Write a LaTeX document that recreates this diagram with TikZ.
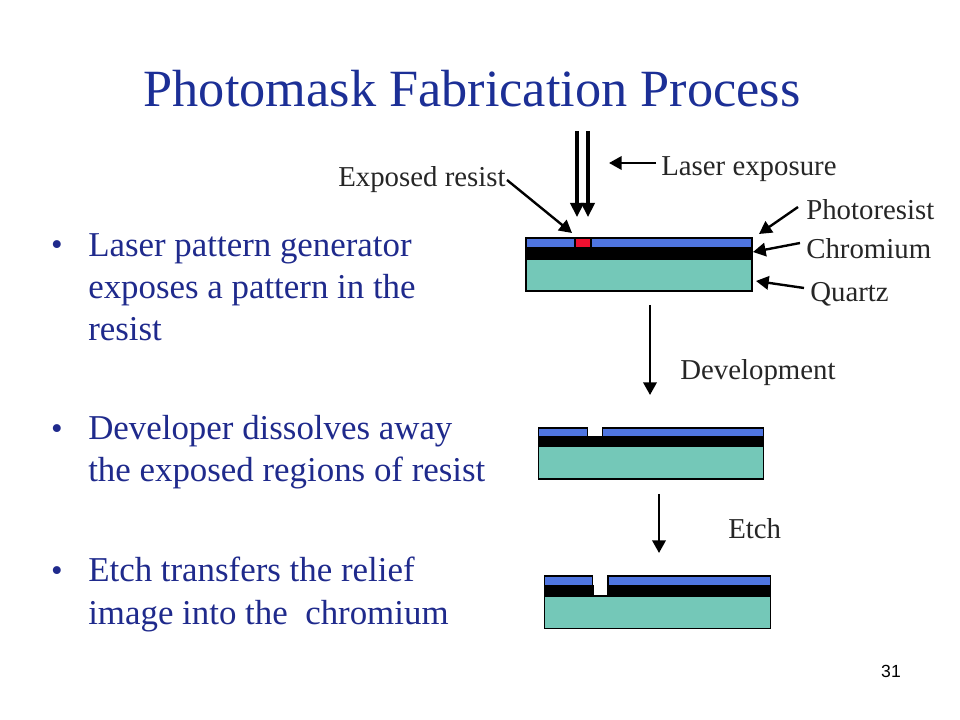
\documentclass[tikz,border=0pt]{standalone}
\usepackage{fontspec}
\setmainfont{Liberation Serif}
\newfontfamily\pagefont{Liberation Sans}
\usetikzlibrary{arrows.meta}
\definecolor{titleblue}{HTML}{1C2F96}
\definecolor{bodyblue}{HTML}{1F2A8C}
\definecolor{resistblue}{HTML}{4F75E0}
\definecolor{quartzteal}{HTML}{74C8B8}
\definecolor{exposedred}{HTML}{EE1030}
\definecolor{labelgray}{HTML}{262626}
\tikzset{
  resistlayer/.style={draw=black, thick, fill=resistblue},
  chromelayer/.style={draw=black, thick, fill=black},
  quartzlayer/.style={draw=black, thick, fill=quartzteal},
  bodytext/.style={anchor=north west, align=left, inner sep=0pt, text=bodyblue, font=\fontsize{24.8}{30}\selectfont},
  bullettext/.style={anchor=base, inner sep=0pt, text=bodyblue, font=\fontsize{23.5}{30}\selectfont},
  sidelabel/.style={anchor=base west, inner sep=0pt, text=labelgray, font=\fontsize{20.5}{24}\selectfont},
  pointer/.style={line width=1.7pt, -{Triangle[length=9pt,width=9.5pt]}},
  beam/.style={line width=2.2pt, -{Triangle[length=10pt,width=9.5pt]}},
}
\begin{document}
\begin{tikzpicture}[x=0.025cm, y=-0.025cm]
  \useasboundingbox (0,0) rectangle (960,720);
  \node[anchor=base, inner sep=0pt, text=titleblue, font=\fontsize{37.2}{42}\selectfont] (title) at (472,106.5) {Photomask Fabrication Process};

  % bullets
  \node[bullettext] (dot1) at (57,256) {•};
  \node[bullettext] (dot2) at (57,440) {•};
  \node[bullettext] (dot3) at (57,581) {•};
  \node[bodytext] (item1) at (88,233) {Laser pattern generator\\exposes a pattern in the\\resist};
  \node[bodytext] (item2) at (88,415) {Developer dissolves away\\the exposed regions of resist};
  \node[bodytext] (item3) at (88,557) {Etch transfers the relief\\image into the\ \ chromium};

  % first stack
  \draw[quartzlayer] (526,259) rectangle (752,291);
  \draw[chromelayer] (526,248) rectangle (752,259);
  \draw[resistlayer] (526,238) rectangle (752,248);
  \draw[thick, fill=exposedred] (575,238) rectangle (591,248);

  % second stack
  \draw[quartzlayer] (538.5,446) rectangle (763.5,479);
  \draw[chromelayer] (538.5,437) rectangle (763.5,446);
  \draw[resistlayer] (538.5,428) rectangle (587.5,437);
  \draw[resistlayer] (602.5,428) rectangle (763.5,437);

  % third stack
  \draw[quartzlayer] (544.5,596) rectangle (770.5,628.5);
  \draw[chromelayer] (544.5,586) rectangle (593,596);
  \draw[chromelayer] (608,586) rectangle (770.5,596);
  \draw[resistlayer] (544.5,576) rectangle (592.5,586);
  \draw[resistlayer] (608,576) rectangle (770.5,586);

  % labels
  \node[sidelabel] (exposed) at (338,187) {Exposed resist};
  \node[sidelabel] (laser) at (661,176) {Laser exposure};
  \node[sidelabel] (resist) at (806,220) {Photoresist};
  \node[sidelabel] (chromium) at (806,259) {Chromium};
  \node[sidelabel] (quartz) at (810,302) {Quartz};
  \node[sidelabel] (develop) at (680,380) {Development};
  \node[sidelabel] (etch) at (728,539) {Etch};
  \node[anchor=base, inner sep=0pt, font=\pagefont\fontsize{12.5}{14}\selectfont] (page) at (891,677) {31};

  % beams
  \coordinate (beamtopa) at (577,131);
  \coordinate (beamenda) at (577,217);
  \coordinate (beamtopb) at (588,131);
  \coordinate (beamendb) at (588,217);
  \draw[beam] (beamtopa) -- (beamenda);
  \draw[beam] (beamtopb) -- (beamendb);

  % pointers
  \coordinate (laserstart) at (656,163);
  \coordinate (laserend) at (609,163);
  \coordinate (exposedstart) at (507,180);
  \coordinate (exposedend) at (572,233);
  \coordinate (resiststart) at (798,207);
  \coordinate (resistend) at (759,234);
  \coordinate (chromestart) at (800,243);
  \coordinate (chromeend) at (753,252);
  \coordinate (quartzstart) at (804,288);
  \coordinate (quartzend) at (756,281);
  \draw[pointer] (laserstart) -- (laserend);
  \draw[pointer] (exposedstart) -- (exposedend);
  \draw[pointer] (resiststart) -- (resistend);
  \draw[pointer] (chromestart) -- (chromeend);
  \draw[pointer] (quartzstart) -- (quartzend);

  % steps
  \coordinate (devtop) at (650,305);
  \coordinate (devend) at (650,395);
  \coordinate (etchtop) at (659,494);
  \coordinate (etchend) at (659,553);
  \draw[pointer] (devtop) -- (devend);
  \draw[pointer] (etchtop) -- (etchend);
\end{tikzpicture}
\end{document}
